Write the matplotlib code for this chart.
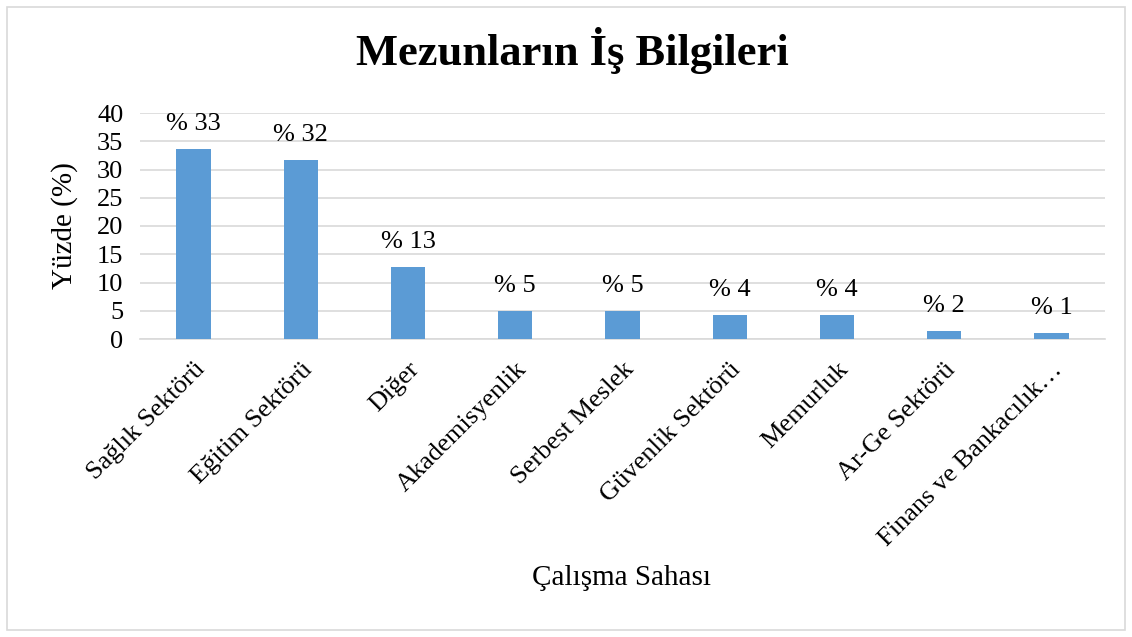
import matplotlib.pyplot as plt
from matplotlib.patches import Rectangle

# veriler
alanlar = ["Sağlık Sektörü", "Eğitim Sektörü", "Diğer", "Akademisyenlik",
           "Serbest Meslek", "Güvenlik Sektörü", "Memurluk", "Ar-Ge Sektörü",
           "Finans ve Bankacılık…"]
yuzde = [33.6, 31.7, 12.7, 5.0, 5.0, 4.2, 4.2, 1.5, 1.0]
etiketler = ["% 33", "% 32", "% 13", "% 5", "% 5", "% 4", "% 4", "% 2", "% 1"]

plt.rcParams['font.family'] = ['Liberation Serif', 'DejaVu Serif']

fig = plt.figure(figsize=(11.32, 6.37), dpi=100)
ax = fig.add_axes([140/1132, 1 - 339/637, 965/1132, 226/637])

x = list(range(len(alanlar)))
ax.bar(x, yuzde, width=0.32, color='#5b9bd5', zorder=3)
for xi, v, t in zip(x, yuzde, etiketler):
    ax.annotate(t, (xi, v), xytext=(0, 10), textcoords='offset points',
                ha='center', va='bottom', fontsize=19)

ax.set_xlim(-0.5, len(alanlar) - 0.5)
ax.set_ylim(0, 40)
ax.set_yticks(range(0, 41, 5))
ax.yaxis.grid(True, color='#d9d9d9', linewidth=1.2, zorder=0)
ax.set_axisbelow(True)
for s in ['top', 'right', 'left']:
    ax.spines[s].set_visible(False)
ax.spines['bottom'].set_color('#d9d9d9')
ax.spines['bottom'].set_linewidth(1.2)
ax.tick_params(length=0, labelsize=19)
ax.tick_params(axis='y', pad=12)
ax.tick_params(axis='x', pad=14)
ax.set_xticks(x)
ax.set_xticklabels(alanlar, rotation=45, ha='right', rotation_mode='anchor', fontsize=19)

fig.text(65/1132, 1 - 226/637, "Yüzde (%)", ha='center', va='center', rotation=90, fontsize=21)
fig.text(622/1132, 1 - 578/637, "Çalışma Sahası", ha='center', va='center', fontsize=21)
fig.text(572/1132, 1 - 50/637, "Mezunların İş Bilgileri", ha='center', va='center',
         fontsize=32, fontweight='bold')

fig.patches.append(Rectangle((7/1132, 7/637), 1118/1132, 623/637, transform=fig.transFigure,
                             fill=False, edgecolor='#d9d9d9', linewidth=1.2))

fig.savefig("out.png", dpi=100)
